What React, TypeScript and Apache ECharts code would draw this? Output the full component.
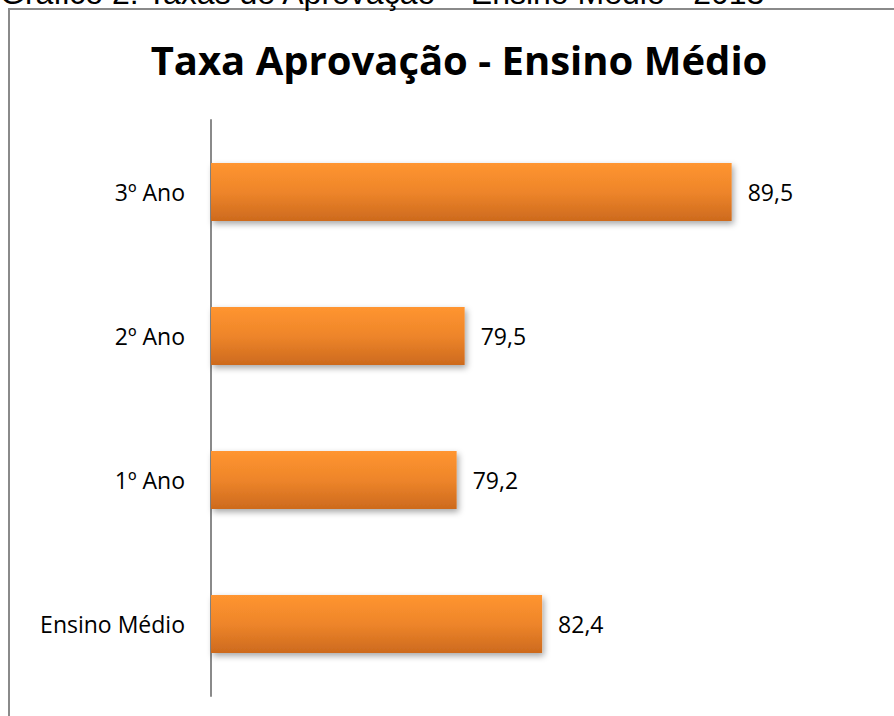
import React, { useEffect, useRef } from "react";
import * as echarts from "echarts";

const categories = ["Ensino Médio", "1º Ano", "2º Ano", "3º Ano"];
const values = [82.4, 79.2, 79.5, 89.5];
const axisMin = 70;
const axisMax = 90;
const titleText = "Taxa Aprovação - Ensino Médio";
const captionText = "Gráfico 2: Taxas de Aprovação – Ensino Médio - 2013";

export default function App() {
  const ref = useRef<HTMLDivElement>(null);
  useEffect(() => {
    if (!ref.current) return;
    const chart = echarts.init(ref.current, undefined, { renderer: "svg" });
    chart.setOption({
      animation: false,
      backgroundColor: "#ffffff",
      title: {
        text: titleText,
        left: 454,
        textAlign: "center",
        top: 34,
        textStyle: {
          fontFamily: "Open Sans",
          fontWeight: "bold",
          fontSize: 40,
          color: "#000000",
        },
      },
      graphic: [
        {
          type: "rect",
          shape: { x: 9, y: 9, width: 900, height: 730 },
          style: { fill: "none", stroke: "#8a8a8a", lineWidth: 2 },
          silent: true,
        },
        {
          type: "text",
          x: 0,
          y: 9,
          style: {
            text: captionText,
            font: "32px 'Liberation Sans'",
            fill: "#000000",
            verticalAlign: "bottom",
          },
          silent: true,
        },
      ],
      grid: { left: 211, top: 120, width: 534, height: 576, containLabel: false },
      xAxis: {
        type: "value",
        min: axisMin,
        max: axisMax,
        show: false,
      },
      yAxis: {
        type: "category",
        data: categories,
        axisLine: { show: true, lineStyle: { color: "#8a8a8a", width: 2 } },
        axisTick: { show: false },
        axisLabel: {
          margin: 26,
          fontFamily: "Open Sans",
          fontSize: 23,
          color: "#000000",
        },
      },
      series: [
        {
          type: "bar",
          data: values,
          barWidth: 58,
          itemStyle: {
            color: new echarts.graphic.LinearGradient(0, 0, 0, 1, [
              { offset: 0, color: "#ff9530" },
              { offset: 0.5, color: "#ee852a" },
              { offset: 1, color: "#cd6a1e" },
            ]),
            shadowBlur: 6,
            shadowOffsetX: 2,
            shadowOffsetY: 3,
            shadowColor: "rgba(0,0,0,0.35)",
          },
          label: {
            show: true,
            position: "right",
            distance: 16,
            fontFamily: "Open Sans",
            fontSize: 23,
            color: "#000000",
            formatter: (p: any) => String(p.value).replace(".", ","),
          },
        },
      ],
    });
    return () => chart.dispose();
  }, []);
  return (
    <div
      ref={ref}
      style={{ position: "fixed", left: 0, top: 0, width: 894, height: 716 }}
    />
  );
}
